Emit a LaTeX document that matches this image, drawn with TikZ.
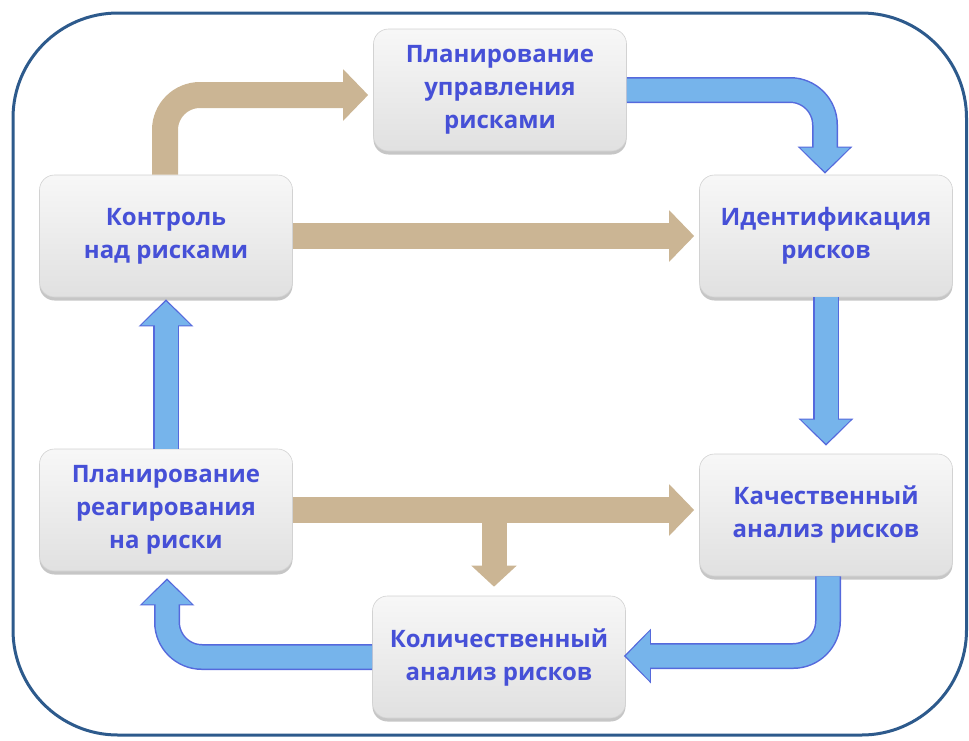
\documentclass[tikz,border=0pt]{standalone}
\usepackage{fontspec}
\setmainfont{Open Sans}
\usetikzlibrary{arrows.meta,calc,shadows}

\definecolor{framecol}{RGB}{45,90,140}
\definecolor{tancol}{RGB}{203,181,148}
\definecolor{bluefill}{RGB}{118,180,235}
\definecolor{blueline}{RGB}{85,105,220}
\definecolor{textcol}{RGB}{70,80,215}

\tikzset{
  box/.style={rectangle, rounded corners=15pt, minimum width=253pt, minimum height=122pt,
    top color=gray!6, bottom color=gray!24, draw=gray!35, line width=0.6pt,
    drop shadow={opacity=0.45, shadow xshift=0pt, shadow yshift=-3.5pt},
    text=textcol, align=center, font=\fontsize{24}{33}\selectfont\bfseries},
  tanarrow/.style={draw=tancol, line width=26pt, rounded corners=35pt,
    -{Triangle[width=50pt,length=25pt]}},
  bluearrow/.style={draw=bluefill, line width=23pt, rounded corners=35pt,
    -{Triangle[width=48pt,length=24pt]}, shorten >=2pt,
    preaction={draw=blueline, line width=26pt, shorten >=0pt,
      -{Triangle[width=53pt,length=27pt]}}},
  frame/.style={draw=framecol, line width=3pt, rounded corners=105pt}
}

\begin{document}
\begin{tikzpicture}[x=1pt,y=-1pt]
  \useasboundingbox (0,0) rectangle (969,740);
  \draw[frame] (13,13) rectangle (966.5,735);

  % блоки
  \node[box] (plan)  at (500,90)  {Планирование\\управления\\рисками};
  \node[box] (ctrl)  at (166,236) {Контроль\\над рисками};
  \node[box] (ident) at (826,236) {Идентификация\\рисков};
  \node[box] (reag)  at (166,510) {Планирование\\реагирования\\на риски};
  \node[box] (qual)  at (826,515) {Качественный\\анализ рисков};
  \node[box] (quant) at (499,657) {Количественный\\анализ рисков};

  % связи
  \draw[tanarrow] ($(ctrl.north)+(-1,0)$) |- ($(plan.west)+(-5,5)$);
  \draw[tanarrow] (ctrl.east) -- ($(ident.west)+(-5,0)$);
  \draw[tanarrow] (reag.east) -- ($(reag.east -| qual.west)+(-5,0)$);
  \coordinate (split) at ($(reag.east -| quant.north)+(-5,0)$);
  \draw[tanarrow, line width=25pt, -{Triangle[width=44pt,length=21pt]}]
    (split) -- ($(split |- quant.north)+(0,-9)$);

  \draw[bluearrow] (plan.east) -| ($(ident.north)+(-1,-1)$);
  \draw[bluearrow] (ident.south) -- ($(qual.north)+(0,-8)$);
  \draw[bluearrow] ($(qual.south)+(2,0)$) |- ($(quant.east)+(-2,-1)$);
  \draw[bluearrow] (quant.west) -| ($(reag.south)+(1,7)$);
  \draw[bluearrow] (reag.north) -- ($(ctrl.south)+(0,2)$);
\end{tikzpicture}
\end{document}
